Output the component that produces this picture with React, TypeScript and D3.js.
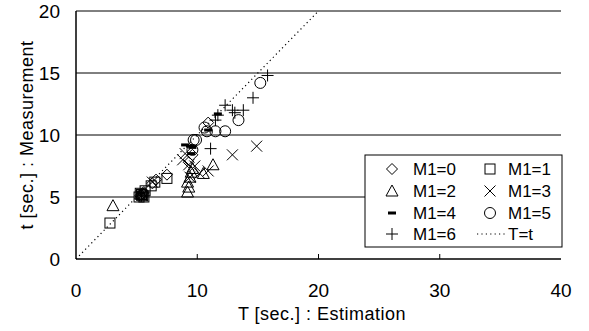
import React from "react";
import * as d3 from "d3";

const xTicks = [0, 10, 20, 30, 40];
const yTicks = [0, 5, 10, 15, 20];

const m1_0: [number, number][] = [[5.3,5.1],[5.5,5.3],[6.3,6.1],[6.6,6.4],[7.5,6.8],[9.3,7.8],[10.9,11.0],[9.6,8.4],[5.6,5.4]];
const m1_1: [number, number][] = [[2.8,2.9],[5.2,5.0],[5.4,5.2],[5.5,5.1],[5.7,5.5],[6.2,5.9],[6.5,6.2],[7.5,6.5],[5.3,5.3],[5.6,5.0]];
const m1_2: [number, number][] = [[3.05,4.3],[5.4,5.2],[9.2,5.4],[9.3,5.8],[9.2,6.2],[9.4,6.6],[9.5,7.0],[10.5,6.9],[11.3,7.6],[9.6,7.3]];
const m1_3: [number, number][] = [[5.4,5.1],[6.3,6.2],[8.8,8.0],[9.3,7.6],[9.4,6.6],[10.2,6.9],[10.9,7.1],[9.8,7.5],[12.9,8.4],[14.9,9.1],[9.0,8.5]];
const m1_4: [number, number][] = [[5.4,5.3],[9.0,9.2],[9.4,9.1],[9.6,9.0],[9.5,8.5],[10.9,10.4],[11.7,11.7]];
const m1_5: [number, number][] = [[5.5,5.2],[9.7,9.6],[9.6,8.8],[9.9,9.6],[10.8,10.3],[11.5,10.3],[12.3,10.3],[13.4,11.2],[15.2,14.2],[10.6,10.6]];
const m1_6: [number, number][] = [[5.4,5.1],[11.1,8.9],[11.7,11.6],[12.3,12.4],[12.9,12.0],[13.1,11.8],[13.8,12.0],[14.6,13.0],[15.8,14.8],[11.5,11.2]];
const diagLine: [number, number][] = [[0, 0], [20, 20]];

const seriesNames = ["M1=0", "M1=1", "M1=2", "M1=3", "M1=4", "M1=5", "M1=6"];
const seriesData = [m1_0, m1_1, m1_2, m1_3, m1_4, m1_5, m1_6];

const FONT = "'Liberation Sans', Arial, sans-serif";

function Marker({ kind, x, y }: { kind: number; x: number; y: number }) {
  const s = { fill: "none", stroke: "#000", strokeWidth: 1 };
  switch (kind) {
    case 0:
      return <path d={`M${x},${y - 5.5}L${x + 5.5},${y}L${x},${y + 5.5}L${x - 5.5},${y}Z`} {...s} />;
    case 1:
      return <rect x={x - 5} y={y - 5} width={10} height={10} {...s} />;
    case 2:
      return <path d={`M${x},${y - 6}L${x + 6},${y + 5}L${x - 6},${y + 5}Z`} {...s} />;
    case 3:
      return <path d={`M${x - 5.5},${y - 5.5}L${x + 5.5},${y + 5.5}M${x + 5.5},${y - 5.5}L${x - 5.5},${y + 5.5}`} {...s} />;
    case 4:
      return <rect x={x - 4} y={y - 1.5} width={8} height={3} fill="#000" />;
    case 5:
      return <circle cx={x} cy={y} r={5.5} {...s} />;
    default:
      return <path d={`M${x - 6},${y}L${x + 6},${y}M${x},${y - 6}L${x},${y + 6}`} {...s} />;
  }
}

export default function App() {
  const W = 589, H = 331;
  const x = d3.scaleLinear().domain([0, 40]).range([76, 561]);
  const y = d3.scaleLinear().domain([0, 20]).range([259, 11]);
  const line = d3.line<[number, number]>().x(d => x(d[0])).y(d => y(d[1]));

  const legendRows = [169, 191, 213, 234];
  const col1Sym = 392, col1Txt = 413, col2Sym = 490, col2Txt = 508;

  return (
    <svg width={W} height={H} style={{ position: "absolute", left: 0, top: 0, background: "#fff" }}>
      <rect width={W} height={H} fill="#fff" />
      {yTicks.filter(t => t > 0).map(t => (
        <line key={t} x1={x(0)} x2={x(40)} y1={y(t)} y2={y(t)} stroke="#000" strokeWidth={1} />
      ))}
      {xTicks.filter(t => t > 0 && t < 40).map(t => (
        <line key={t} x1={x(t)} x2={x(t)} y1={y(0)} y2={y(0) - 5} stroke="#000" strokeWidth={1} />
      ))}
      <path d={line(diagLine) || ""} stroke="#000" strokeWidth={1.2} strokeDasharray="1.2,3.2" fill="none" />
      {seriesData.map((arr, k) =>
        arr.map((d, i) => <Marker key={`${k}-${i}`} kind={k} x={x(d[0])} y={y(d[1])} />)
      )}
      <line x1={x(0)} x2={x(0)} y1={y(0)} y2={y(20)} stroke="#000" strokeWidth={1.5} />
      <line x1={x(0)} x2={x(40)} y1={y(0)} y2={y(0)} stroke="#000" strokeWidth={1.5} />
      {yTicks.map(t => (
        <text key={t} x={60} y={y(t)} dy="0.36em" textAnchor="end" fontFamily={FONT} fontSize={19}>{t}</text>
      ))}
      {xTicks.map(t => (
        <text key={t} x={x(t)} y={297} textAnchor="middle" fontFamily={FONT} fontSize={19}>{t}</text>
      ))}
      <text x={322} y={320} textAnchor="middle" fontFamily={FONT} fontSize={18} letterSpacing={0.5}>T [sec.] : Estimation</text>
      <text transform={`translate(33,${(y(0) + y(20)) / 2}) rotate(-90)`} textAnchor="middle" fontFamily={FONT} fontSize={18} letterSpacing={0.5}>t [sec.] : Measurement</text>

      <rect x={365} y={155} width={197} height={92} fill="#fff" stroke="#000" strokeWidth={1} />
      {seriesNames.map((name, k) => {
        const row = Math.floor(k / 2);
        const col = k % 2;
        const sx = col === 0 ? col1Sym : col2Sym;
        const tx = col === 0 ? col1Txt : col2Txt;
        const ly = legendRows[row];
        return (
          <g key={name}>
            <Marker kind={k} x={sx} y={ly} />
            <text x={tx} y={ly} dy="0.36em" fontFamily={FONT} fontSize={17}>{name}</text>
          </g>
        );
      })}
      <line x1={477} x2={507} y1={legendRows[3]} y2={legendRows[3]} stroke="#000" strokeWidth={1.2} strokeDasharray="1.2,3.2" />
      <text x={508} y={legendRows[3]} dy="0.36em" fontFamily={FONT} fontSize={17}>T=t</text>
    </svg>
  );
}
